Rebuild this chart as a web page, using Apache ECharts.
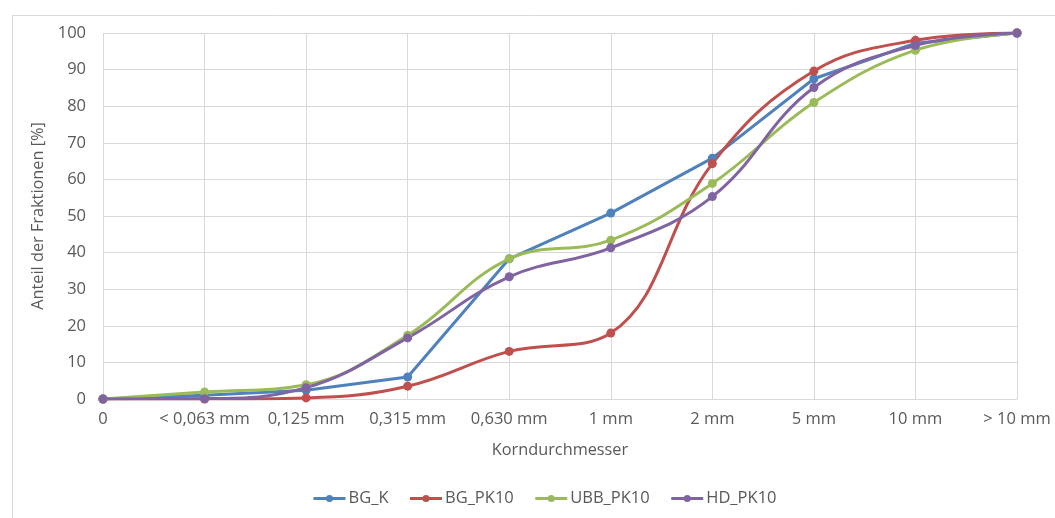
<!DOCTYPE html>
<html>
<head>
<meta charset="utf-8">
<script src="https://cdn.jsdelivr.net/npm/echarts@6/dist/echarts.min.js"></script>
<style>
html,body{margin:0;padding:0;background:#fff;}
#chart{width:1055px;height:518px;}
</style>
</head>
<body>
<div id="chart"></div>
<script>
const categories = ['0', '< 0,063 mm', '0,125 mm', '0,315 mm', '0,630 mm', '1 mm', '2 mm', '5 mm', '10 mm', '> 10 mm'];
const bgK     = [0, 1.0, 2.4, 6.0, 38.3, 50.8, 65.8, 87.5, 97.2, 100];
const bgPK10  = [0, 0.0, 0.3, 3.5, 13.0, 18.0, 64.3, 89.6, 98.0, 100];
const ubbPK10 = [0, 1.9, 3.9, 17.4, 38.3, 43.4, 58.9, 81.0, 95.3, 100];
const hdPK10  = [0, 0.1, 3.1, 16.7, 33.4, 41.3, 55.3, 85.1, 96.6, 100];
const yTicks = { min: 0, max: 100, interval: 10 };

const font = '"Open Sans", "Liberation Sans", sans-serif';
const textColor = '#595959';
const gridColor = '#d9d9d9';

function mkSeries(name, data, color, smooth) {
  return {
    name: name, type: 'line', data: data, smooth: smooth,
    symbol: 'circle', symbolSize: 9,
    lineStyle: { color: color, width: 3 },
    itemStyle: { color: color },
    emphasis: { disabled: true }
  };
}

const chart = echarts.init(document.getElementById('chart'), null, { renderer: 'canvas' });
chart.setOption({
  animation: false,
  backgroundColor: '#fff',
  graphic: [{
    type: 'rect', left: 10, top: 13, silent: true,
    shape: { width: 1070, height: 530 },
    style: { fill: 'none', stroke: '#d9d9d9', lineWidth: 1 }
  }],
  grid: { left: 103, right: 38, top: 33, bottom: 119, containLabel: false },
  legend: {
    bottom: 6, left: 307,
    itemWidth: 32, itemHeight: 9, itemGap: 20,
    lineStyle: { width: 3 },
    textStyle: { fontFamily: font, fontSize: 16.5, color: textColor, padding: [0, 0, 0, -2] },
    data: ['BG_K', 'BG_PK10', 'UBB_PK10', 'HD_PK10']
  },
  xAxis: {
    type: 'category', data: categories, boundaryGap: false,
    name: 'Korndurchmesser', nameLocation: 'middle', nameGap: 43,
    nameTextStyle: { fontFamily: font, fontSize: 16.3, color: textColor },
    axisLine: { show: true, lineStyle: { color: gridColor, width: 1 } },
    axisTick: { show: false },
    axisLabel: { fontFamily: font, fontSize: 16.5, color: textColor, margin: 12, interval: 0 },
    splitLine: { show: true, lineStyle: { color: gridColor, width: 1 } }
  },
  yAxis: {
    type: 'value', min: yTicks.min, max: yTicks.max, interval: yTicks.interval,
    name: 'Anteil der Fraktionen [%]', nameLocation: 'middle', nameGap: 48,
    nameTextStyle: { fontFamily: font, fontSize: 16.3, color: textColor },
    axisLine: { show: false }, axisTick: { show: false },
    axisLabel: { fontFamily: font, fontSize: 16.5, color: textColor, margin: 17 },
    splitLine: { show: true, lineStyle: { color: gridColor, width: 1 } }
  },
  series: [
    mkSeries('BG_K', bgK, '#4F81BD', false),
    mkSeries('BG_PK10', bgPK10, '#C0504D', 0.4),
    mkSeries('UBB_PK10', ubbPK10, '#9BBB59', 0.4),
    mkSeries('HD_PK10', hdPK10, '#8064A2', 0.4)
  ]
});
</script>
</body>
</html>
